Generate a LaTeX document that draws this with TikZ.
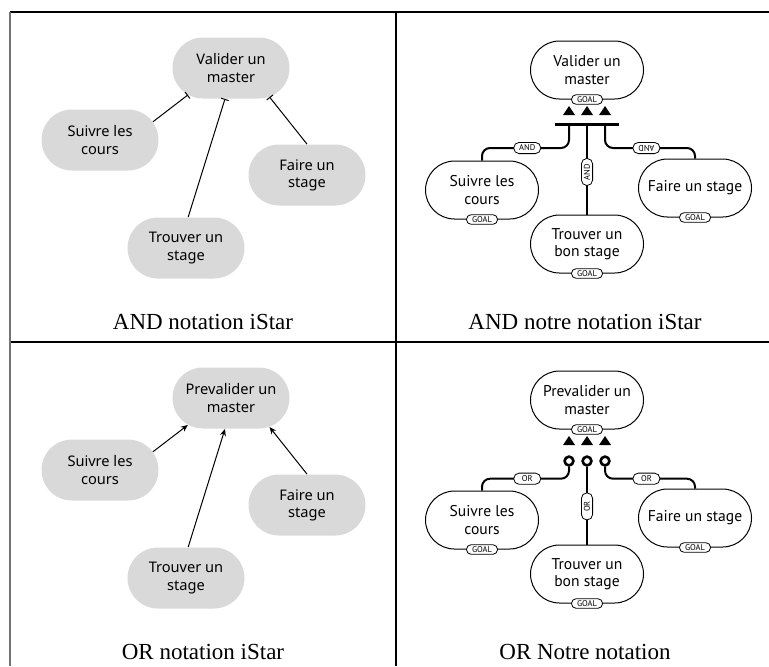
\documentclass[tikz,border=0pt]{standalone}
\usepackage{fontspec}
\setmainfont{Liberation Serif}
\newfontfamily\istarfont{Noto Sans}
\newfontfamily\notrefont{PT Sans}
\usetikzlibrary{arrows.meta,shapes.misc,calc}
\newcommand{\Px}{0.5pt}
\tikzset{IStarGoal/.style={
    rounded rectangle,
    inner sep=0pt,
    minimum width=58.5pt,
    minimum height=30.5pt,
    fill=black!15,
    align=center,
    font=\istarfont\fontsize{7.3}{8.6}\selectfont,
    }
}
\tikzset{NotreGoal/.style={
    rounded rectangle,
    inner sep=0pt,
    minimum width=56.5pt,
    minimum height=29pt,
    draw=black, line width=0.5pt,
    fill=white,
    align=center,
    font=\notrefont\fontsize{7.8}{8.6}\selectfont,
    }
}
\tikzset{Tag/.style={
    rectangle,
    rounded corners=2.7pt,
    inner sep=0.3pt,
    minimum width=13.5pt,
    minimum height=5.6pt,
    draw=black, line width=0.4pt,
    fill=white,
    font=\notrefont\fontsize{4.2}{4.2}\selectfont,
    },
    GoalTag/.style={Tag, rounded corners=2.3pt, minimum width=15.5pt, minimum height=4.8pt},
    OrRing/.style={circle, draw=black, line width=1.3pt, fill=white,
        inner sep=0pt, minimum size=4.4pt},
    Caption/.style={font=\fontsize{11.5}{13}\selectfont},
    Rule/.style={line width=0.75pt, black},
    AndLink/.style={line width=0.5pt, -{Bar[width=4pt]}},
    OrLink/.style={line width=0.5pt, -{Stealth[length=3.5pt,width=3pt]}},
    NotreLink/.style={line width=1pt, rounded corners=4pt},
}

\begin{document}
\begin{tikzpicture}[x=\Px, y=-\Px]
    \useasboundingbox (0,0) rectangle (769,666);
    % table
    \draw[Rule] (10,12) -- (769,12);
    \draw[Rule] (10,342) -- (769,342);
    \draw[Rule] (396,12) -- (396,666);
    \draw[line width=1pt, black!55] (10,12) -- (10,666);

    % AND notation iStar
    \node [IStarGoal] (valA) at (231,68) {Valider un\\master};
    \node [IStarGoal] (suiA) at (100,140) {Suivre les\\cours};
    \node [IStarGoal] (faiA) at (307,175) {Faire un\\stage};
    \node [IStarGoal] (troA) at (186,248) {Trouver un\\stage};
    \draw [AndLink] (suiA.19) -- (valA.212);
    \draw [AndLink] (troA.86) -- (valA.259);
    \draw [AndLink] (faiA.90) -- (valA.323);
    \node [Caption] (capA) at (203,322) {AND notation iStar};

    % OR notation iStar
    \node [IStarGoal] (valC) at (231,398) {Prevalider un\\master};
    \node [IStarGoal] (suiC) at (100,470) {Suivre les\\cours};
    \node [IStarGoal] (faiC) at (307,505) {Faire un\\stage};
    \node [IStarGoal] (troC) at (186,578) {Trouver un\\stage};
    \draw [OrLink] (suiC.19) -- (valC.212);
    \draw [OrLink] (troC.86) -- (valC.259);
    \draw [OrLink] (faiC.90) -- (valC.323);
    \node [Caption] (capC) at (203,652) {OR notation iStar};

    % AND notre notation
    \node [NotreGoal] (valB) at (587,70) {Valider un\\master};
    \node [NotreGoal] (suiB) at (482,190) {Suivre les\\cours};
    \node [NotreGoal] (faiB) at (695,188) {Faire un stage};
    \node [NotreGoal] (troB) at (587,244) {Trouver un\\bon stage};
    \foreach \n in {valB,suiB,faiB,troB}
        \node [GoalTag] at (\n.south) {GOAL};
    \foreach \x in {569,587,605}
        \fill (\x-6,115) -- (\x,106) -- (\x+6,115) -- cycle;
    \draw [line width=1.5pt] (555,124) -- (619,124);
    \coordinate (andL) at (569,124);
    \coordinate (andM) at (587,124);
    \coordinate (andR) at (605,124);
    \draw [NotreLink] (andL) -- ++(0,24) -| node [Tag, pos=0.24] {AND} (suiB.north);
    \draw [NotreLink] (andM) -- node [Tag, rotate=90, pos=0.53] {AND} (troB.north);
    \draw [NotreLink] (andR) -- ++(0,24) -| node [Tag, rotate=180, pos=0.23] {AND} (faiB.north);
    \node [Caption] (capB) at (585,322) {AND notre notation iStar};

    % OR notre notation
    \node [NotreGoal] (valD) at (587,400) {Prevalider un\\master};
    \node [NotreGoal] (suiD) at (482,520) {Suivre les\\cours};
    \node [NotreGoal] (faiD) at (695,518) {Faire un stage};
    \node [NotreGoal] (troD) at (587,574) {Trouver un\\bon stage};
    \foreach \n in {valD,suiD,faiD,troD}
        \node [GoalTag] at (\n.south) {GOAL};
    \foreach \x in {569,587,605}
        \fill (\x-6,445) -- (\x,436) -- (\x+6,445) -- cycle;
    \node [OrRing] (orL) at (569,461) {};
    \node [OrRing] (orM) at (587,461) {};
    \node [OrRing] (orR) at (605,461) {};
    \draw [NotreLink] (orL.south) -- ++(0,12) -| node [Tag, pos=0.24] {OR} (suiD.north);
    \draw [NotreLink] (orM.south) -- node [Tag, rotate=90, pos=0.51] {OR} (troD.north);
    \draw [NotreLink] (orR.south) -- ++(0,12) -| node [Tag, pos=0.23] {OR} (faiD.north);
    \node [Caption] (capD) at (585,652) {OR Notre notation};
\end{tikzpicture}
\end{document}
